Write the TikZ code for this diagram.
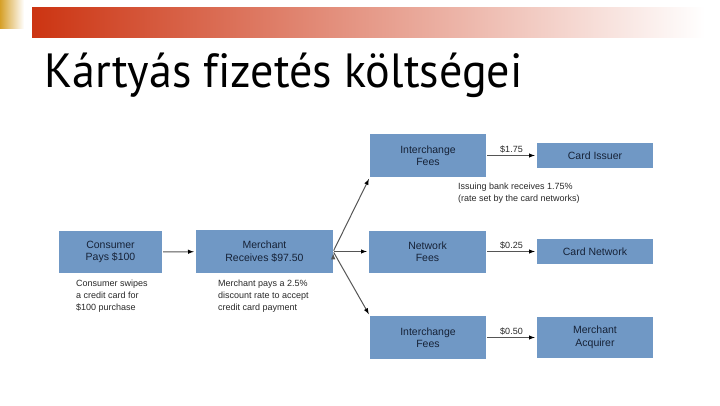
\documentclass[tikz,border=0pt]{standalone}
\usepackage{fontspec}
\setmainfont{Liberation Sans}
\newfontfamily\titlefont[Ligatures=NoCommon]{PT Sans}
\definecolor{boxblue}{RGB}{112,152,197}
\definecolor{boxtext}{RGB}{22,34,55}
\definecolor{notetext}{RGB}{40,40,40}
\definecolor{arrowgray}{RGB}{85,85,85}
\definecolor{barred}{RGB}{204,52,18}
\definecolor{cornergold}{RGB}{214,160,40}
\begin{document}
\begin{tikzpicture}[x=1pt,y=-1pt,>=latex]
	\tikzstyle{block} = [rectangle,fill=boxblue,text=boxtext,align=center,inner sep=0pt,font=\fontsize{10.5}{12.5}\selectfont]
	\tikzstyle{note} = [anchor=north west,align=left,inner sep=0pt,text=notetext,font=\fontsize{9}{12}\selectfont]
	\tikzstyle{link} = [draw=arrowgray,line width=1pt,shorten >=2pt,shorten <=1pt]
	\useasboundingbox (0,0) rectangle (720,405);
	% header
	\shade[left color=cornergold,right color=white] (0,0) rectangle (24,28);
	\shade[left color=barred,right color=white] (32,7) rectangle (705,37);
	\node[anchor=base west,inner sep=0pt,font=\titlefont\fontsize{48}{48}\selectfont](title)at(44,87){\scalebox{0.96}[1]{Kártyás fizetés költségei}};
	% boxes
	\node[block,minimum width=103pt,minimum height=42pt](consumer)at(110.5,252){Consumer\\Pays \$100};
	\node[block,minimum width=137pt,minimum height=43pt](merchant)at(264.5,251.5){Merchant\\Receives \$97.50};
	\node[block,minimum width=116pt,minimum height=43pt](ifeetop)at(428,155.5){Interchange\\Fees};
	\node[block,minimum width=117pt,minimum height=42pt](netfee)at(427.5,251.5){Network\\Fees};
	\node[block,minimum width=116pt,minimum height=43pt](ifeebot)at(428,337.5){Interchange\\Fees};
	\node[block,minimum width=116pt,minimum height=25pt](issuer)at(595,155.5){Card Issuer};
	\node[block,minimum width=116pt,minimum height=25pt](network)at(595,251.5){Card Network};
	\node[block,minimum width=116pt,minimum height=41pt](acquirer)at(595,337.5){Merchant\\Acquirer};
	% notes
	\node[note](consnote)at(76,280){Consumer swipes\\a credit card for\\\$100 purchase};
	\node[note](mernote)at(218,280){Merchant pays a 2.5\%\\discount rate to accept\\credit card payment};
	\node[note](issnote)at(458,183){Issuing bank receives 1.75\%\\(rate set by the card networks)};
	% arrows
	\path[->,link] (consumer) edge (merchant)
	(merchant.east) edge (ifeetop.south west)
	(merchant.east) edge (netfee)
	(merchant.east) edge (ifeebot.north west);
	\path[->,link,every node/.style={above,inner sep=2pt,text=notetext,font=\fontsize{9}{10}\selectfont}]
	(ifeetop) edge node{\$1.75} (issuer)
	(netfee) edge node{\$0.25} (network)
	(ifeebot) edge node{\$0.50} (acquirer);
\end{tikzpicture}
\end{document}
